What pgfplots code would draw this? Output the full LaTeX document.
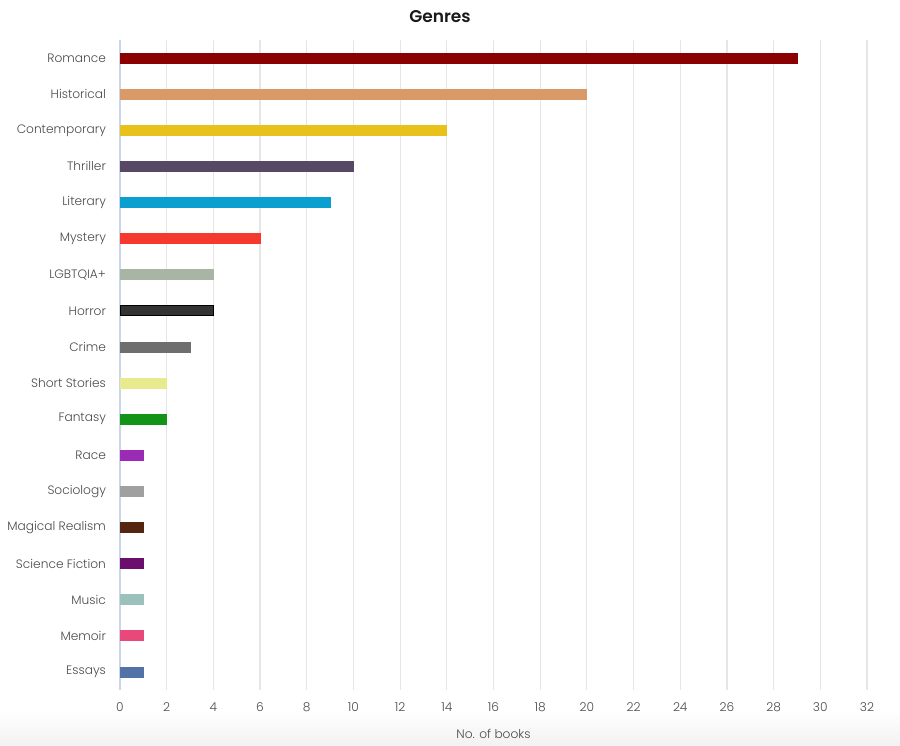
\documentclass[border=0pt]{standalone}
\usepackage{fontspec}
\setmainfont{Poppins}
\IfFontExistsTF{Poppins Light}{\newfontfamily\lightfont{Poppins Light}}{\newcommand\lightfont{}}
\IfFontExistsTF{Poppins SemiBold}{\newfontfamily\titlefont{Poppins SemiBold}}{\newcommand\titlefont{\bfseries}}
\usepackage{pgfplots}
\pgfplotsset{compat=1.18}
\definecolor{cRomance}{HTML}{8B0000}
\definecolor{cHistorical}{HTML}{D99A67}
\definecolor{cContemporary}{HTML}{E8C21A}
\definecolor{cThriller}{HTML}{574966}
\definecolor{cLiterary}{HTML}{0A9FCF}
\definecolor{cMystery}{HTML}{F5392F}
\definecolor{cLGBT}{HTML}{A8B5A4}
\definecolor{cHorror}{HTML}{333333}
\definecolor{cCrime}{HTML}{6E6E6E}
\definecolor{cShort}{HTML}{E8EA8E}
\definecolor{cFantasy}{HTML}{139317}
\definecolor{cRace}{HTML}{9B2AB5}
\definecolor{cSociology}{HTML}{A0A0A0}
\definecolor{cMagical}{HTML}{55260F}
\definecolor{cSciFi}{HTML}{6B0F6E}
\definecolor{cMusic}{HTML}{9BC1BC}
\definecolor{cMemoir}{HTML}{E8487A}
\definecolor{cEssays}{HTML}{5372A8}
\definecolor{labelgray}{HTML}{4A4A4A}
\definecolor{gridgray}{HTML}{E6E6E6}
\definecolor{axisblue}{HTML}{CCD6EB}
\begin{document}
\begin{tikzpicture}
\path[use as bounding box] (-60pt,-27.5pt) rectangle (390pt,345pt);
\shade[top color=white, bottom color=black!5] (-60pt,-27.5pt) rectangle (390pt,-10pt);
\begin{axis}[
  scale only axis,
  width=373.5pt, height=325pt,
  xmin=0, xmax=32, ymin=-0.5, ymax=17.5,
  xtick={0,2,...,32},
  ytick={0,...,17},
  yticklabels={Essays,Memoir,Music,Science Fiction,Magical Realism,Sociology,Race,Fantasy,Short Stories,Crime,Horror,LGBTQIA+,Mystery,Literary,Thriller,Contemporary,Historical,Romance},
  xmajorgrids,
  grid style={gridgray, line width=0.6pt},
  axis lines*=left,
  x axis line style={draw=none},
  y axis line style={draw=axisblue, line width=0.6pt},
  major tick length=0pt,
  tick label style={font=\lightfont\fontsize{6.1}{7.5}\selectfont, text=labelgray},
  xticklabel style={yshift=-3pt},
  yticklabel style={xshift=-3.5pt},
  /pgf/number format/assume math mode=true,
  xlabel={No. of books},
  xlabel style={font=\lightfont\fontsize{6.1}{7.5}\selectfont, text=labelgray, yshift=-1.5pt},
  clip=false,
  mybar/.style={xbar, bar width=5pt, bar shift=0pt, fill=#1, draw=#1, line width=0.4pt},
]
\addplot[mybar=cRomance] coordinates {(29,17)};
\addplot[mybar=cHistorical] coordinates {(20,16)};
\addplot[mybar=cContemporary] coordinates {(14,15)};
\addplot[mybar=cThriller] coordinates {(10,14)};
\addplot[mybar=cLiterary] coordinates {(9,13)};
\addplot[mybar=cMystery] coordinates {(6,12)};
\addplot[mybar=cLGBT] coordinates {(4,11)};
\addplot[mybar=cHorror, draw=black] coordinates {(4,10)};
\addplot[mybar=cCrime] coordinates {(3,9)};
\addplot[mybar=cShort] coordinates {(2,8)};
\addplot[mybar=cFantasy] coordinates {(2,7)};
\addplot[mybar=cRace] coordinates {(1,6)};
\addplot[mybar=cSociology] coordinates {(1,5)};
\addplot[mybar=cMagical] coordinates {(1,4)};
\addplot[mybar=cSciFi] coordinates {(1,3)};
\addplot[mybar=cMusic] coordinates {(1,2)};
\addplot[mybar=cMemoir] coordinates {(1,1)};
\addplot[mybar=cEssays] coordinates {(1,0)};
\end{axis}
\node[font=\titlefont\fontsize{8.5}{10}\selectfont, text=black!90] at (160pt,336.5pt) {Genres};
\end{tikzpicture}
\end{document}
